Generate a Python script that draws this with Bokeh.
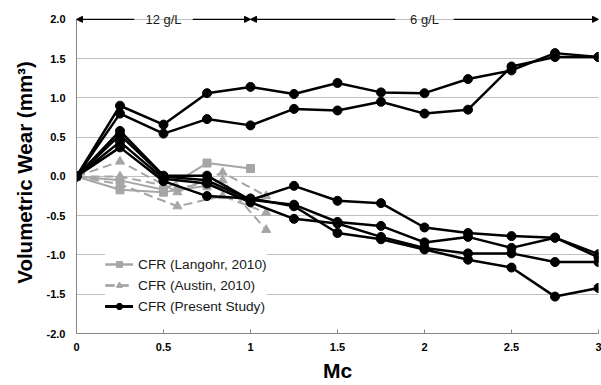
from bokeh.plotting import figure
from bokeh.models import Arrow, NormalHead, Label, FixedTicker, NumeralTickFormatter
from bokeh.embed import file_html
from bokeh.resources import INLINE

# ---- data ----
x_ticks = [0, 0.5, 1, 1.5, 2, 2.5, 3]
x_tick_labels = ["0", "0.5", "1", "1.5", "2", "2.5", "3"]
y_ticks = [-2.0, -1.5, -1.0, -0.5, 0.0, 0.5, 1.0, 1.5, 2.0]

# Present study (6 runs)
ps_x = [0, 0.25, 0.5, 0.75, 1.0, 1.25, 1.5, 1.75, 2.0, 2.25, 2.5, 2.75, 3.0]
ps_1 = [0, 0.90, 0.66, 1.06, 1.14, 1.05, 1.19, 1.07, 1.06, 1.24, 1.35, 1.57, 1.52]
ps_2 = [0, 0.80, 0.545, 0.73, 0.65, 0.86, 0.84, 0.95, 0.80, 0.85, 1.40, 1.52, 1.52]
ps_3 = [0, 0.58, 0.01, 0.01, -0.30, -0.12, -0.31, -0.34, -0.65, -0.72, -0.76, -0.78, -0.99]
ps_4 = [0, 0.53, 0.00, -0.05, -0.30, -0.36, -0.58, -0.63, -0.84, -0.77, -0.91, -0.78, -1.03]
ps_5 = [0, 0.44, -0.03, -0.09, -0.33, -0.54, -0.60, -0.77, -0.91, -0.98, -0.98, -1.09, -1.09]
ps_6 = [0, 0.37, -0.06, -0.25, -0.28, -0.38, -0.72, -0.80, -0.93, -1.06, -1.16, -1.53, -1.42]

# Langohr 2010
lan_x1 = [0, 0.25, 0.5, 0.75, 1.0]
lan_1 = [0, -0.05, -0.17, 0.17, 0.10]
lan_x2 = [0, 0.25, 0.5, 0.75]
lan_2 = [0, -0.17, -0.20, -0.12]

# Austin 2010
aus_x = [0, 0.25, 0.58, 0.84, 1.09]
aus_1 = [0, 0.19, -0.20, 0.05, -0.25]
aus_2 = [0, 0.00, -0.15, -0.05, -0.68]
aus_3 = [0, -0.10, -0.38, -0.25, -0.46]

# concentration bands
conc_start = [0, 1]
conc_end = [1, 3]
conc_labels = ["12 g/L", "6 g/L"]

FONT = "Liberation Sans"
GRAY = "#A6A6A6"

ytop = y_ticks[-1]
p = figure(width=601, height=385, x_range=(0, 3), y_range=(y_ticks[0], ytop + 0.1),
           output_backend="svg", toolbar_location=None,
           min_border_left=76, min_border_right=3, min_border_top=11, min_border_bottom=52)
p.outline_line_color = None
p.background_fill_color = "white"

# grid
p.xgrid.grid_line_color = None
p.ygrid.ticker = FixedTicker(ticks=y_ticks)
p.ygrid.grid_line_color = "#C0C0C0"
p.ygrid.grid_line_width = 1

# axes
p.xaxis.ticker = FixedTicker(ticks=x_ticks)
p.xaxis.major_label_overrides = {t: l for t, l in zip(x_ticks, x_tick_labels)}
p.yaxis.ticker = FixedTicker(ticks=y_ticks)
p.yaxis.formatter = NumeralTickFormatter(format="0.0")
p.yaxis.bounds = (y_ticks[0], ytop)
for ax in (p.xaxis[0], p.yaxis[0]):
    ax.axis_line_color = "#868686"
    ax.major_tick_line_color = "#868686"
    ax.minor_tick_line_color = None
    ax.major_label_text_font = FONT
    ax.major_label_text_font_style = "bold"
    ax.major_label_text_font_size = "11px"
    ax.major_label_text_color = "black"
    ax.axis_label_text_font = FONT
    ax.axis_label_text_font_style = "bold"
    ax.axis_label_text_color = "black"
p.xaxis.major_tick_in = 4
p.xaxis.major_tick_out = 0
p.yaxis.major_tick_in = 0
p.yaxis.major_tick_out = 0
p.xaxis.major_label_standoff = 9
p.yaxis.major_label_standoff = 11
p.xaxis.axis_label = "Mc"
p.xaxis.axis_label_text_font_size = "21px"
p.xaxis.axis_label_standoff = 5
p.yaxis.axis_label = "Volumetric Wear (mm³)"
p.yaxis.axis_label_text_font_size = "20.5px"
p.yaxis.axis_label_standoff = 8

# Langohr
for xs, ys in ((lan_x1, lan_1), (lan_x2, lan_2)):
    p.line(xs, ys, line_color=GRAY, line_width=2, legend_label="CFR (Langohr, 2010)")
    p.scatter(xs, ys, marker="square", size=8, fill_color=GRAY, line_color=GRAY,
              legend_label="CFR (Langohr, 2010)")

# Austin
for ys in (aus_1, aus_2, aus_3):
    p.line(aus_x, ys, line_color=GRAY, line_width=2, line_dash="9 5",
           legend_label="CFR (Austin, 2010)")
    p.scatter(aus_x, ys, marker="triangle", size=9, fill_color=GRAY, line_color=GRAY,
              legend_label="CFR (Austin, 2010)")

# Present study
for ys in (ps_1, ps_2, ps_3, ps_4, ps_5, ps_6):
    p.line(ps_x, ys, line_color="black", line_width=2.5, legend_label="CFR (Present Study)")
    p.scatter(ps_x, ys, marker="circle", size=9, fill_color="black", line_color="black",
              legend_label="CFR (Present Study)")

# legend
lg = p.legend[0]
lg.location = (29, 17)
lg.background_fill_color = "white"
lg.background_fill_alpha = 1
lg.border_line_color = None
lg.label_text_font = FONT
lg.label_text_font_size = "13.7px"
lg.label_text_color = "#1a1a1a"
lg.glyph_width = 28
lg.glyph_height = 14
lg.label_height = 20
lg.spacing = 1
lg.padding = 12
lg.margin = 0
lg.label_standoff = 5

# concentration arrows (split around the text)
half_gap = 0.168
for xs, xe, txt in zip(conc_start, conc_end, conc_labels):
    xc = (xs + xe) / 2
    p.add_layout(Arrow(x_start=xc - half_gap, y_start=ytop, x_end=xs, y_end=ytop,
                       line_color="black", line_width=1.3, start=None,
                       end=NormalHead(size=6, fill_color="black", line_color="black")))
    p.add_layout(Arrow(x_start=xc + half_gap, y_start=ytop, x_end=xe, y_end=ytop,
                       line_color="black", line_width=1.3, start=None,
                       end=NormalHead(size=6, fill_color="black", line_color="black")))
    p.add_layout(Label(x=xc, y=ytop, text=txt, text_align="center",
                       text_baseline="middle", text_font=FONT, text_font_size="13px",
                       text_color="#1a1a1a"))

open("out.html", "w").write(file_html(p, INLINE))
